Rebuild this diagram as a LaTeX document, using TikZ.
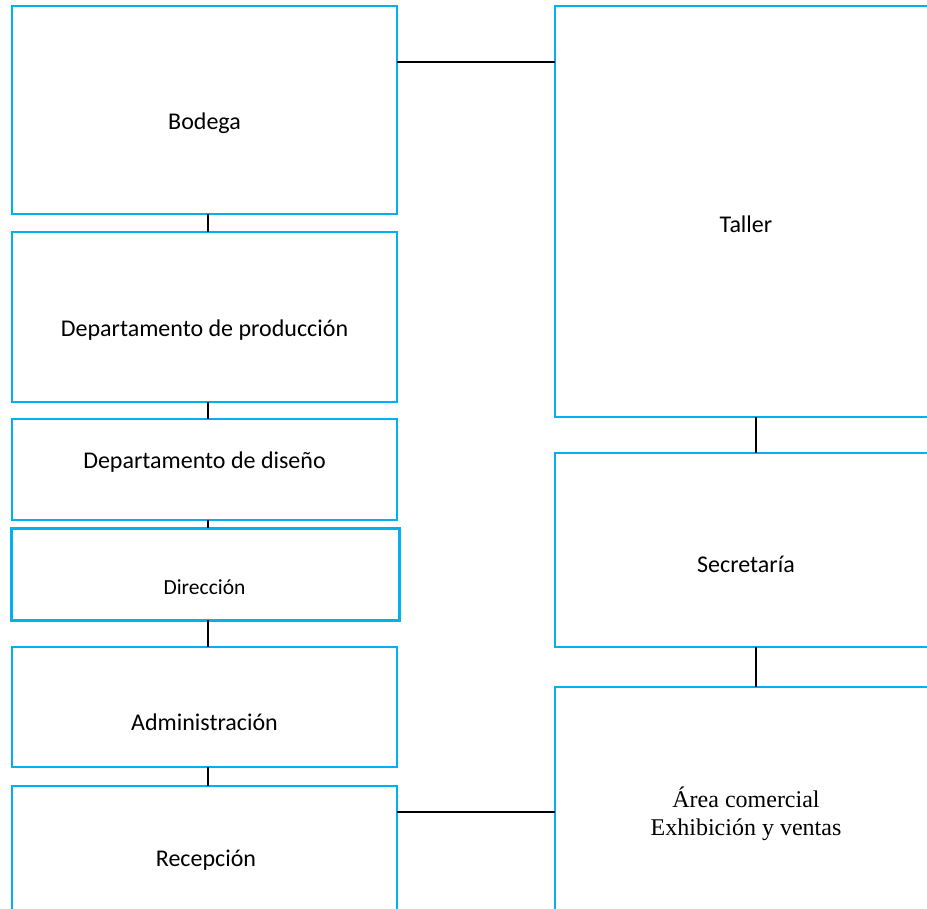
\documentclass[tikz,border=0pt]{standalone}
\usepackage{fontspec}
\setmainfont{Carlito}
\newfontfamily\serifarea{Liberation Serif}
\usepackage{tikz}
\definecolor{boxblue}{HTML}{00B0F0}
\tikzset{
  box/.style={draw=boxblue, line width=2pt, rectangle, inner sep=0pt, outer sep=0pt, fill=white},
  lbl/.style={inner sep=0pt, font=\fontsize{24}{29}\selectfont},
  link/.style={black, line width=2.6pt}
}

\begin{document}
\begin{tikzpicture}[x=1pt,y=-1pt]
\useasboundingbox (0,0) rectangle (927,909);
\clip (0,0) rectangle (927,909);

\node[box, minimum width=385pt, minimum height=208pt] (bodega) at (204.5,110) {};
\node[box, minimum width=385pt, minimum height=170pt] (produccion) at (204.5,317) {};
\node[box, minimum width=385pt, minimum height=101pt] (diseno) at (204.5,469.5) {};
\node[box, line width=3pt, minimum width=388pt, minimum height=92pt] (direccion) at (205,574) {};
\node[box, minimum width=385pt, minimum height=120pt] (admin) at (204.5,707) {};
\node[box, minimum width=385pt, minimum height=154pt] (recepcion) at (204.5,863) {};

\node[box, minimum width=405pt, minimum height=411pt] (taller) at (757.5,211.5) {};
\node[box, minimum width=405pt, minimum height=194pt] (secretaria) at (757.5,550) {};
\node[box, minimum width=405pt, minimum height=253pt] (area) at (757.5,813.5) {};

\node[lbl] (tbodega) at (204.5,123) {Bodega};
\node[lbl] (tproduccion) at (204.5,330) {Departamento de producción};
\node[lbl] (tdiseno) at (204.5,462) {Departamento de diseño};
\node[lbl, font=\fontsize{21.5}{26}\selectfont] (tdireccion) at (204.5,587) {Dirección};
\node[lbl] (tadmin) at (204.5,722) {Administración};
\node[lbl] (trecepcion) at (206,860) {Recepción};
\node[lbl] (ttaller) at (746,224) {Taller};
\node[lbl] (tsecretaria) at (746,564) {Secretaría};
\node[lbl, font=\serifarea\fontsize{24}{28.5}\selectfont, align=center] (tarea) at (746,814) {Área comercial\\Exhibición y ventas};

\coordinate (left) at (208,0);
\coordinate (right) at (756,0);
\draw[link] (left |- bodega.south) -- (left |- produccion.north);
\draw[link] (left |- produccion.south) -- (left |- diseno.north);
\draw[link] (left |- diseno.south) -- (left |- direccion.north);
\draw[link] (left |- direccion.south) -- (left |- admin.north);
\draw[link] (left |- admin.south) -- (left |- recepcion.north);

\draw[link] (right |- taller.south) -- (right |- secretaria.north);
\draw[link] (right |- secretaria.south) -- (right |- area.north);

\coordinate (upper) at (397,62);
\coordinate (lower) at (397,812);
\draw[link] (upper) -- (upper -| taller.west);
\draw[link] (lower) -- (lower -| area.west);
\end{tikzpicture}
\end{document}
